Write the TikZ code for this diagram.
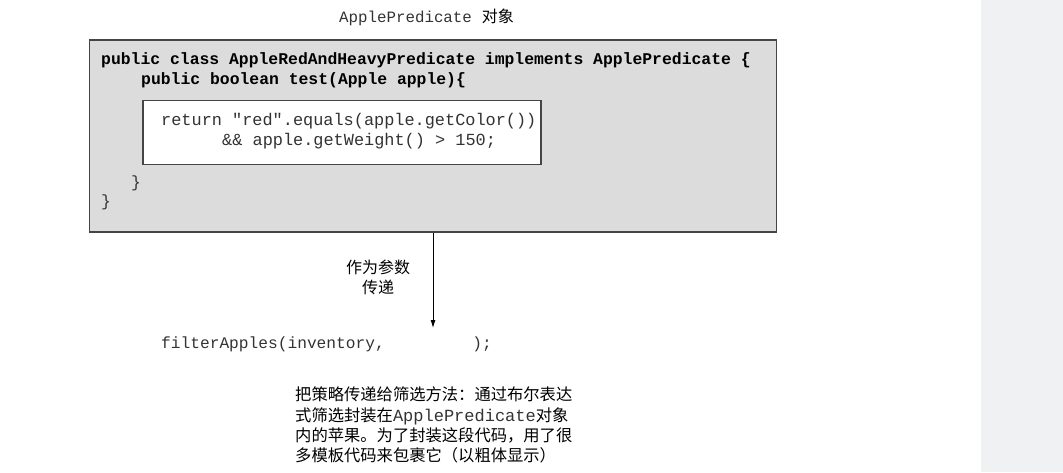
\documentclass[tikz,border=0pt]{standalone}
\usepackage{fontspec}
\setmonofont{Liberation Mono}
\newfontfamily\cjk{Noto Sans CJK SC}
\usetikzlibrary{arrows.meta}
\definecolor{boxgray}{HTML}{DCDCDC}
\definecolor{edgegray}{HTML}{454545}
\definecolor{bandgray}{HTML}{F0F1F3}
\definecolor{codegray}{HTML}{333333}
\tikzset{
  outerbox/.style={draw=edgegray, line width=1.4pt, fill=boxgray, inner sep=0pt},
  innerbox/.style={draw=edgegray, line width=1.2pt, fill=white, inner sep=0pt},
  boldcode/.style={anchor=west, inner sep=0pt, text=black, font=\ttfamily\bfseries\fontsize{16.4}{20}\selectfont},
  code/.style={anchor=west, inner sep=0pt, text=codegray, font=\ttfamily\fontsize{16.2}{20}\selectfont},
  bigcode/.style={anchor=west, inner sep=0pt, text=codegray, font=\ttfamily\fontsize{16.9}{20}\selectfont},
  cjktext/.style={inner sep=0pt, text=black, font=\cjk\fontsize{16.3}{20.2}\selectfont},
  connector/.style={draw=black, line width=0.9pt, -{Latex[length=8pt,width=5pt]}}
}
\begin{document}
\begin{tikzpicture}[x=1pt,y=-1pt]
\useasboundingbox (0,0) rectangle (1063,472);
\fill[bandgray] (981,0) rectangle (1063,472);
% title
\node[anchor=west, inner sep=0pt] (title) at (339,17)
  {\ttfamily\fontsize{15.8}{19}\selectfont\color{codegray}ApplePredicate\hspace{10pt}{\cjk\fontsize{16}{19}\selectfont\color{black}对象}};
% outer box
\node[outerbox, minimum width=687pt, minimum height=192pt] (outer) at (433,136) {};
\node[boldcode] (l1) at (101,60) {public class AppleRedAndHeavyPredicate implements ApplePredicate \{};
\node[boldcode] (l2) at (141,80) {public boolean test(Apple apple)\{};
% inner box
\node[innerbox, minimum width=398pt, minimum height=64pt] (inner) at (342,132.5) {};
\node[bigcode] (r1) at (161,121) {return "red".equals(apple.getColor())};
\node[bigcode] (r2) at (222,141) {\&\& apple.getWeight() > 150;};
\node[code] (b1) at (131,183) {\}};
\node[code] (b2) at (101,202) {\}};
% arrow
\coordinate (tip) at (433,328);
\draw[connector] (outer.south -| tip) -- (tip);
\node[cjktext, align=center, font=\cjk\fontsize{16}{20}\selectfont] (pass) at (378,277) {作为参数\\传递};
% call
\node[code] (call) at (161,344) {filterApples(inventory,\ \ \ \ \ \ \ \ \ );};
% caption
\node[cjktext, anchor=north west, align=left] (cap) at (295,387)
  {把策略传递给筛选方法：通过布尔表达\\式筛选封装在{\ttfamily\fontsize{17}{20}\selectfont\color{codegray}ApplePredicate}对象\\内的苹果。为了封装这段代码，用了很\\多模板代码来包裹它（以粗体显示）};
\end{tikzpicture}
\end{document}
